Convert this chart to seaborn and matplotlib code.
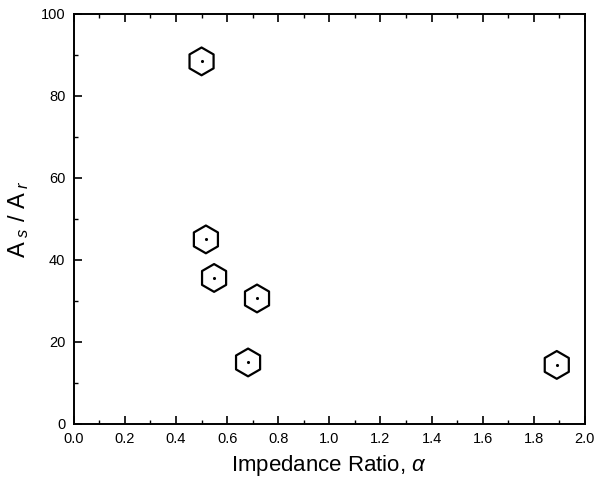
import matplotlib
matplotlib.use("Agg")
import matplotlib.pyplot as plt
import seaborn as sns
import pandas as pd
from matplotlib.ticker import MultipleLocator

impedance_ratio = [0.50, 0.517, 0.549, 0.717, 0.682, 1.89]
area_ratio = [88.4, 45.0, 35.6, 30.6, 15.0, 14.4]

sns.set_theme(style="ticks")
plt.rcParams['font.family'] = ['Liberation Sans', 'DejaVu Sans']
plt.rcParams['mathtext.fontset'] = 'custom'
plt.rcParams['mathtext.rm'] = 'Liberation Sans'
plt.rcParams['mathtext.it'] = 'Liberation Sans:italic'

df = pd.DataFrame({"alpha": impedance_ratio, "ratio": area_ratio})

fig = plt.figure(figsize=(5.95, 4.93), dpi=100)
ax = fig.add_axes([0.124, 0.140, 0.859, 0.832])

sns.scatterplot(data=df, x="alpha", y="ratio", ax=ax, marker="h", s=400,
                facecolor="none", edgecolor="black", linewidth=1.6, zorder=3)
sns.scatterplot(data=df, x="alpha", y="ratio", ax=ax, marker="o", s=5,
                color="black", edgecolor="black", linewidth=0, zorder=4)

ax.set_xlim(0, 2.0)
ax.set_ylim(0, 100)
ax.xaxis.set_major_locator(MultipleLocator(0.2))
ax.xaxis.set_minor_locator(MultipleLocator(0.1))
ax.yaxis.set_major_locator(MultipleLocator(20))
ax.yaxis.set_minor_locator(MultipleLocator(10))
ax.set_xticks([0.0, 0.2, 0.4, 0.6, 0.8, 1.0, 1.2, 1.4, 1.6, 1.8, 2.0])
ax.set_xticklabels(["0.0", "0.2", "0.4", "0.6", "0.8", "1.0", "1.2", "1.4", "1.6", "1.8", "2.0"])
ax.tick_params(axis="both", which="major", direction="in", length=6, width=1.2,
               top=True, right=False, labelsize=10.5, color="black", labelcolor="black", pad=6)
ax.tick_params(axis="both", which="minor", direction="in", length=3, width=1.0,
               top=True, right=False, color="black")
for sp in ax.spines.values():
    sp.set_visible(True)
    sp.set_linewidth(1.4)
    sp.set_color("black")

ax.set_xlabel(r"Impedance Ratio, $\alpha$", fontsize=16, labelpad=5, color="black")
ax.set_ylabel(r"A$_{\ s}$ / A$_{\ r}$", fontsize=17, labelpad=7, color="black")

fig.savefig("out.png", dpi=100)
